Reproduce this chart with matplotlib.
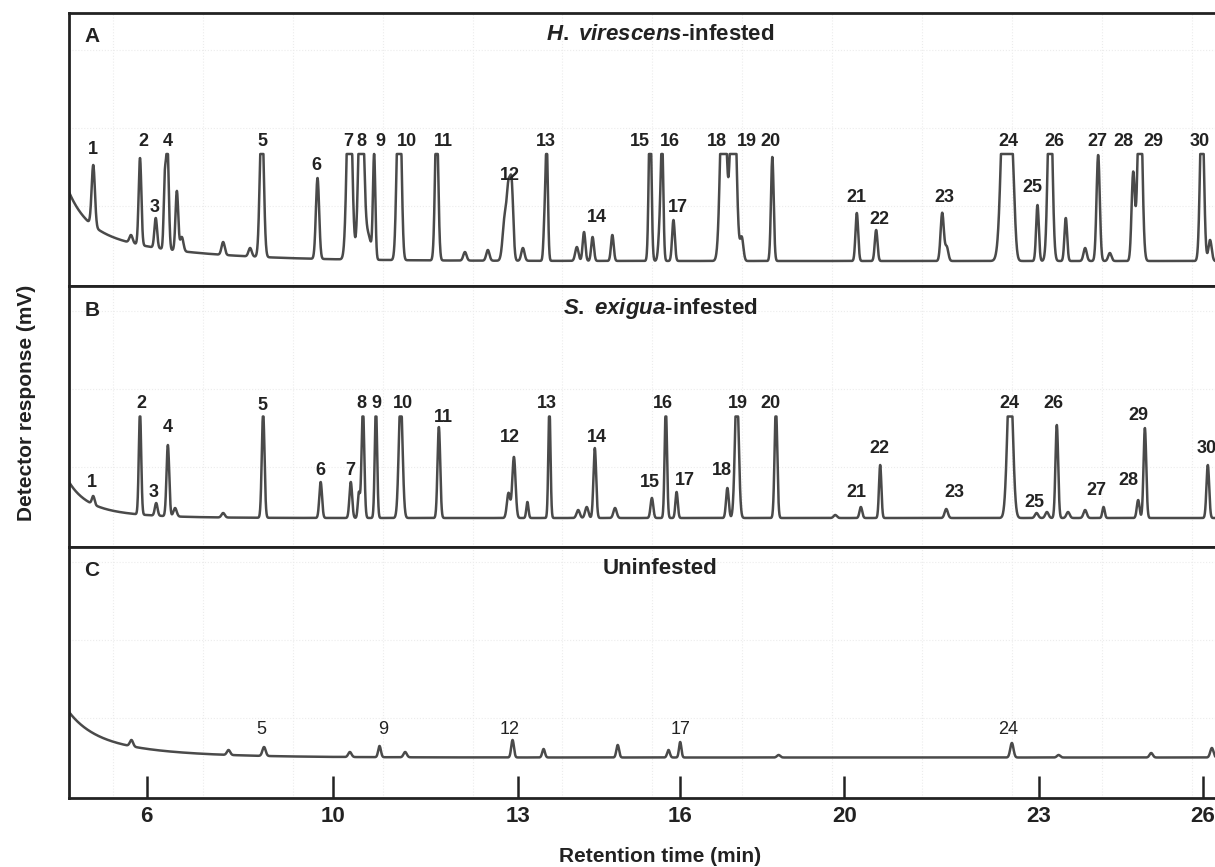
import numpy as np
import matplotlib.pyplot as plt

plt.rcParams["font.family"] = ["Liberation Sans", "DejaVu Sans"]
plt.rcParams["mathtext.fontset"] = "custom"
plt.rcParams["mathtext.it"] = "Liberation Sans:italic:bold"
plt.rcParams["mathtext.rm"] = "Liberation Sans:bold"

# time window of the run (min)
T0, T1 = 4.5, 30.0

# x-axis tick positions (min) and the labels printed under them
tick_pos = [6.23, 10.37, 14.48, 18.10, 21.75, 26.08, 29.73]
tick_labels = ["6", "10", "13", "16", "20", "23", "26"]

# ---- A: H. virescens-infested ----
# peak retention time (min), apex response, peak sigma (min)
a_rt = [5.04, 5.88, 6.08, 6.43, 6.63, 6.69, 6.90, 7.01, 7.93, 8.53, 8.79,
        10.03, 10.74, 11.00, 11.15, 11.29, 11.83, 11.88, 12.68, 13.31, 13.82,
        14.20, 14.28, 14.35, 14.60, 15.08, 15.13, 15.80, 15.96, 16.15, 16.59,
        17.43, 17.66, 17.70, 17.95, 19.06, 19.28, 19.47, 20.15, 22.03, 22.46,
        23.93, 24.03, 25.35, 25.50, 26.05, 26.33, 26.68, 27.11, 27.40, 27.66,
        28.18, 28.33, 29.71, 29.89]
a_apex = [121, 51, 128, 68, 100, 140, 95, 49, 44, 38, 180,
          108, 230, 230, 51, 129, 180, 99, 170, 34, 36,
          69, 85, 98, 38, 58, 140, 39, 54, 49, 51,
          180, 69, 124, 66, 250, 250, 48, 129, 73, 56,
          73, 39, 300, 79, 81, 220, 68, 38, 131, 33,
          113, 220, 190, 46]
a_sig = [0.03, 0.03, 0.025, 0.025, 0.02, 0.025, 0.025, 0.03, 0.03, 0.03, 0.035,
         0.03, 0.045, 0.045, 0.06, 0.022, 0.035, 0.03, 0.03, 0.03, 0.03,
         0.04, 0.03, 0.03, 0.03, 0.02, 0.022, 0.03, 0.025, 0.025, 0.025,
         0.025, 0.03, 0.022, 0.025, 0.05, 0.05, 0.03, 0.025, 0.025, 0.025,
         0.03, 0.03, 0.07, 0.04, 0.025, 0.04, 0.025, 0.03, 0.03, 0.03,
         0.03, 0.04, 0.035, 0.03]
a_base = [25, 35, 0.4, 34, 2.0]
a_clip = 132
a_lab = [str(i) for i in range(1, 31)]
a_lab_rt = [5.04, 6.15, 6.41, 6.70, 8.81, 10.01, 10.72, 11.01, 11.42, 12.01,
            12.83, 14.31, 15.11, 16.24, 17.21, 17.87, 18.04, 18.91, 19.58, 20.10,
            22.03, 22.53, 23.97, 25.40, 25.94, 26.43, 27.39, 27.96, 28.63, 29.67]
a_lab_y = [136, 144, 78, 144, 144, 121, 144, 144, 144, 144,
           144, 111, 144, 68, 144, 144, 79, 144, 144, 144,
           89, 67, 89, 144, 99, 144, 144, 144, 144, 144]

# ---- B: S. exigua-infested ----
b_rt = [5.04, 6.08, 6.44, 6.70, 6.86, 7.93, 8.82, 10.10, 10.77, 10.95, 11.04,
        11.33, 11.88, 12.73, 14.28, 14.40, 14.70, 15.19, 15.83, 16.02, 16.20,
        16.65, 17.47, 17.78, 18.02, 19.15, 19.36, 20.23, 21.55, 22.12, 22.55,
        24.02, 25.44, 26.03, 26.26, 26.48, 26.73, 27.11, 27.52, 28.29, 28.44,
        29.84]
b_apex = [51, 135, 44, 102, 39, 34, 135, 65, 65, 54, 140,
          140, 150, 120, 54, 90, 45, 140, 37, 40, 99,
          39, 49, 140, 55, 59, 160, 140, 32, 40, 82,
          38, 180, 34, 35, 122, 35, 37, 40, 47, 119,
          82]
b_sig = [0.025, 0.022, 0.025, 0.025, 0.03, 0.03, 0.025, 0.025, 0.025, 0.02, 0.025,
         0.022, 0.035, 0.025, 0.03, 0.03, 0.02, 0.02, 0.03, 0.03, 0.025,
         0.03, 0.025, 0.022, 0.022, 0.025, 0.035, 0.025, 0.03, 0.025, 0.022,
         0.03, 0.05, 0.03, 0.03, 0.025, 0.03, 0.03, 0.022, 0.025, 0.025,
         0.025]
b_base = [29, 20, 0.35, 16, 1.0]
b_clip = 130.5
b_lab = [str(i) for i in range(1, 31)]
b_lab_rt = [5.02, 6.12, 6.38, 6.70, 8.81, 10.10, 10.75, 11.01, 11.35, 11.94,
            12.83, 14.31, 15.13, 16.24, 17.43, 17.72, 18.21, 19.02, 19.38, 20.10,
            22.03, 22.53, 24.21, 25.42, 25.99, 26.40, 27.37, 28.07, 28.29, 29.82]
b_lab_y = [65, 144, 55, 120, 142, 77, 77, 144, 144, 144,
           130, 110, 144, 110, 65, 144, 67, 77, 144, 144,
           55, 99, 55, 144, 45, 144, 57, 67, 132, 99]

# ---- C: Uninfested ----
c_rt = [5.89, 8.05, 8.84, 10.75, 11.41, 11.98, 14.37, 15.06, 16.71, 17.84,
        18.10, 20.29, 25.48, 26.52, 28.58, 29.93]
c_apex = [58, 48, 51, 46, 52, 46, 58, 49, 53, 48,
          56, 43, 55, 43, 45, 50]
c_sig = [0.03, 0.03, 0.03, 0.03, 0.025, 0.03, 0.025, 0.025, 0.025, 0.025,
         0.022, 0.03, 0.03, 0.03, 0.03, 0.03]
c_base = [40.5, 22, 0.5, 23.5, 1.6]
c_lab = ["5", "9", "12", "17", "24"]
c_lab_rt = [8.79, 11.49, 14.31, 18.10, 25.39]
c_lab_y = [68, 68, 68, 68, 68]


def trace(t, rt, apex, sig, base, clip=None):
    b0, a1, k1, a2, k2 = base
    bl = b0 + a1 * np.exp(-(t - T0) / k1) + a2 * np.exp(-(t - T0) / k2)
    y = bl.copy()
    for r, h, s in zip(rt, apex, sig):
        s = s * 1.2
        y += (h - np.interp(r, t, bl)) * np.exp(-0.5 * ((t - r) / s) ** 2)
    if clip is not None:
        y = np.minimum(y, clip)
    return y


t = np.linspace(T0, T1, 8000)

fig = plt.figure(figsize=(12.15, 8.67), dpi=100)
W, H = 1215.0, 867.0
left = 69 / W

panels = [
    # (top px, bottom px, letter, title, rt, apex, sig, base, clip, labels, lab_rt, lab_y, bold labels)
    (13, 286, "A", r"$\mathit{H.}$ $\mathit{virescens}$-infested", a_rt, a_apex, a_sig, a_base, a_clip,
     a_lab, a_lab_rt, a_lab_y, True),
    (286, 547, "B", r"$\mathit{S.}$ $\mathit{exigua}$-infested", b_rt, b_apex, b_sig, b_base, b_clip,
     b_lab, b_lab_rt, b_lab_y, True),
    (547, 798, "C", "Uninfested", c_rt, c_apex, c_sig, c_base, None,
     c_lab, c_lab_rt, c_lab_y, False),
]

grid_t = np.arange(5.48, 30.0, 2.0)

for i, (top, bot, letter, title, rt, apex, sig, base, clip, lab, lab_rt, lab_y, bold) in enumerate(panels):
    ax = fig.add_axes([left, 1 - bot / H, 1 - left, (bot - top) / H])
    ax.set_xlim(T0, T1)
    ax.set_ylim(0, bot - top)
    for g in grid_t:
        ax.axvline(g, color="#ececec", lw=0.8, ls=":", zorder=0)
    for g in np.arange(80, bot - top, 78):
        ax.axhline(g, color="#ececec", lw=0.8, ls=":", zorder=0)
    y = trace(t, rt, apex, sig, base, clip)
    ax.plot(t, y, color="#4a4a4a", lw=1.8, zorder=2)

    for s, x0, y0 in zip(lab, lab_rt, lab_y):
        ax.text(x0, y0, s, ha="center", va="center", fontsize=13,
                fontweight="bold" if bold else "normal", color="#222222")

    ax.text(0.02, 1 - 24 / (bot - top), letter, transform=ax.transAxes, ha="center", va="center",
            fontsize=15, fontweight="bold", color="#222222")
    ax.text((660 - 69) / 1146, 1 - 22 / (bot - top), title, transform=ax.transAxes,
            ha="center", va="center", fontsize=16, fontweight="bold", color="#222222")

    for side in ["top", "bottom", "left"]:
        ax.spines[side].set_linewidth(2.0)
        ax.spines[side].set_color("#222222")
    ax.spines["right"].set_visible(False)
    ax.set_yticks([])
    if i < 2:
        ax.set_xticks([])
    else:
        ax.set_xticks(tick_pos)
        ax.set_xticklabels(tick_labels, fontsize=16, fontweight="bold", color="#222222")
        ax.tick_params(axis="x", direction="in", length=16, width=1.8, color="#222222", pad=6)

fig.text(660 / W, 1 - 857 / H, "Retention time (min)", ha="center", va="center",
         fontsize=15, fontweight="bold", color="#222222")
fig.text(27 / W, 1 - 403 / H, "Detector response (mV)", ha="center", va="center",
         rotation=90, fontsize=15, fontweight="bold", color="#222222")

fig.savefig("out.png", dpi=100)
